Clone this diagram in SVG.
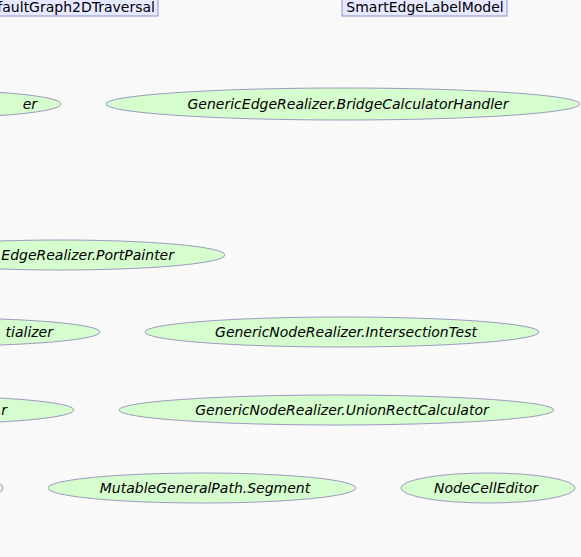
<svg xmlns="http://www.w3.org/2000/svg" width="581" height="557" viewBox="0 0 581 557">
<style>
.bg{fill:#f9f9f9}
.box{fill:#e6e9ff;stroke:#8d92c4;stroke-width:1}
.btxt{font-family:"DejaVu Sans",sans-serif;font-size:14px;fill:#000}
.ell{fill:#d6fdcd;stroke:#9b9bc0;stroke-width:1}
.etxt{font-family:"DejaVu Sans",sans-serif;font-size:14px;font-style:italic;fill:#000;text-anchor:middle}
.etxe{font-family:"DejaVu Sans",sans-serif;font-size:14px;font-style:italic;fill:#000;text-anchor:end}
</style>
<rect class="bg" x="0" y="0" width="581" height="557"/>
<g id="connectors"></g>
<g id="n_traversal"><rect class="box" x="-40" y="-4" width="198" height="20"/><text class="btxt" x="155" y="12" text-anchor="end">faultGraph2DTraversal</text></g>
<g id="n_smartedge"><rect class="box" x="342" y="-4" width="165" height="20"/><text class="btxt" x="425" y="12" text-anchor="middle">SmartEdgeLabelModel</text></g>
<g id="n_left1"><ellipse class="ell" cx="-80" cy="104" rx="141" ry="14"/><text class="etxe" x="37" y="109">er</text></g>
<g id="n_bridge"><ellipse class="ell" cx="343" cy="104" rx="237" ry="16"/><text class="etxt" x="348" y="109">GenericEdgeRealizer.BridgeCalculatorHandler</text></g>
<g id="n_portpainter"><ellipse class="ell" cx="60" cy="255" rx="165" ry="15"/><text class="etxe" x="174" y="260">EdgeRealizer.PortPainter</text></g>
<g id="n_left2"><ellipse class="ell" cx="-60" cy="332" rx="160" ry="14"/><text class="etxe" x="53" y="337">tializer</text></g>
<g id="n_intersect"><ellipse class="ell" cx="342" cy="332" rx="197" ry="15"/><text class="etxt" x="346" y="337">GenericNodeRealizer.IntersectionTest</text></g>
<g id="n_left3"><ellipse class="ell" cx="-80" cy="410" rx="154" ry="14"/><text class="etxe" x="7" y="415">r</text></g>
<g id="n_union"><ellipse class="ell" cx="336.5" cy="410" rx="217.5" ry="15"/><text class="etxt" x="342" y="415">GenericNodeRealizer.UnionRectCalculator</text></g>
<g id="n_left4"><ellipse class="ell" cx="-60" cy="488" rx="63" ry="14"/></g>
<g id="n_segment"><ellipse class="ell" cx="202" cy="488" rx="154" ry="15"/><text class="etxt" x="205" y="493">MutableGeneralPath.Segment</text></g>
<g id="n_celleditor"><ellipse class="ell" cx="488" cy="488" rx="87" ry="15"/><text class="etxt" x="486" y="493">NodeCellEditor</text></g>
</svg>
